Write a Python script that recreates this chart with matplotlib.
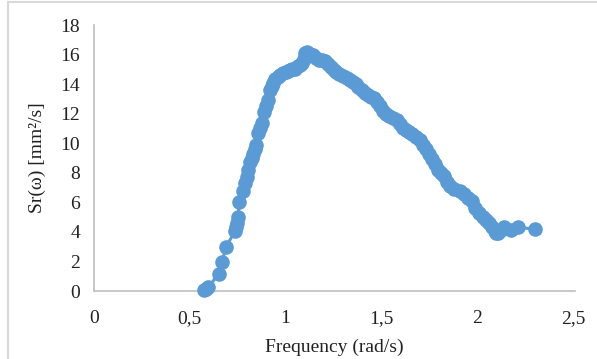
import matplotlib
matplotlib.use("Agg")
import matplotlib.pyplot as plt
from matplotlib.lines import Line2D

freq = [0.575, 0.585, 0.595, 0.652, 0.668, 0.689, 0.736, 0.741, 0.746, 0.752, 0.757,
        0.778, 0.788, 0.798, 0.804, 0.814, 0.822, 0.830, 0.838, 0.845, 0.856, 0.866,
        0.877, 0.887, 0.897, 0.908, 0.919, 0.927, 0.934, 0.945, 0.958, 0.971, 0.985,
        1.000, 1.012, 1.023, 1.035, 1.050, 1.065, 1.076, 1.086, 1.095, 1.100, 1.110,
        1.125, 1.143, 1.160, 1.175, 1.190, 1.205, 1.220, 1.235, 1.250, 1.265, 1.280,
        1.300, 1.320, 1.335, 1.350, 1.365, 1.380, 1.400, 1.415, 1.430, 1.445, 1.460,
        1.475, 1.490, 1.510, 1.525, 1.540, 1.560, 1.580, 1.595, 1.610, 1.630, 1.645,
        1.660, 1.680, 1.700, 1.715, 1.730, 1.750, 1.765, 1.780, 1.795, 1.810, 1.825,
        1.840, 1.860, 1.880, 1.910, 1.930, 1.950, 1.970, 1.990, 2.010, 2.030, 2.045,
        2.060, 2.075, 2.090, 2.100, 2.110, 2.125, 2.140, 2.175, 2.210, 2.300]
sr = [0.05, 0.15, 0.27, 1.15, 1.96, 2.98, 4.06, 4.35, 4.60, 5.00, 6.00,
      6.80, 7.30, 7.70, 8.20, 8.70, 9.00, 9.30, 9.60, 9.90, 10.70, 11.00,
      11.40, 12.10, 12.50, 12.90, 13.60, 13.90, 14.10, 14.35, 14.50, 14.60, 14.75,
      14.85, 14.90, 14.95, 15.00, 15.05, 15.20, 15.30, 15.40, 15.70, 16.10, 16.15,
      16.05, 15.95, 15.75, 15.60, 15.65, 15.55, 15.35, 15.15, 14.95, 14.80, 14.70,
      14.55, 14.40, 14.25, 14.15, 14.00, 13.80, 13.60, 13.40, 13.25, 13.15, 13.05,
      12.80, 12.50, 12.20, 12.00, 11.85, 11.70, 11.55, 11.30, 11.05, 10.90, 10.75,
      10.60, 10.40, 10.20, 9.90, 9.60, 9.30, 8.95, 8.60, 8.20, 8.00, 7.75,
      7.40, 7.10, 6.90, 6.75, 6.55, 6.30, 6.10, 5.60, 5.30, 5.00, 4.80,
      4.60, 4.35, 4.05, 3.95, 3.90, 4.10, 4.30, 4.15, 4.30, 4.20]

x_ticks = [0, 0.5, 1, 1.5, 2, 2.5]
x_labels = ["0", "0,5", "1", "1,5", "2", "2,5"]
y_ticks = [0, 2, 4, 6, 8, 10, 12, 14, 16, 18]

plt.rcParams['font.family'] = ['Liberation Serif', 'DejaVu Serif']

fig = plt.figure(figsize=(5.97, 3.59), dpi=100)
W, H = 597, 359
ax = fig.add_axes([94 / W, (H - 291) / H, (575 - 94) / W, (291 - 25) / H])

color = "#5B9BD5"
ax.plot(freq, sr, color=color, lw=2.2, marker='o', ms=9.5, mec=color, mfc=color,
        clip_on=False, zorder=3)

ax.set_xlim(0, 2.51)
ax.set_ylim(0, 18)
ax.set_xticks(x_ticks)
ax.set_xticklabels(x_labels)
ax.set_yticks(y_ticks)
ax.tick_params(axis='both', length=0, labelsize=14, colors='#222222')
ax.tick_params(axis='x', pad=14)
ax.tick_params(axis='y', pad=10)

for s in ['top', 'right']:
    ax.spines[s].set_visible(False)
for s in ['left', 'bottom']:
    ax.spines[s].set_color('#BFBFBF')
    ax.spines[s].set_linewidth(1.2)
ax.spines['bottom'].set_zorder(1)

ax.set_xlabel("Frequency (rad/s)", fontsize=14, color='#222222', labelpad=8)
ax.set_ylabel("Sr(ω) [mm²/s]", fontsize=14, color='#222222', labelpad=10)

# outer light border
fig.add_artist(Line2D([8 / W, 1], [1 - 2 / H, 1 - 2 / H], color='#D9D9D9', lw=1.5,
                      transform=fig.transFigure))
fig.add_artist(Line2D([8 / W, 8 / W], [0, 1 - 2 / H], color='#D9D9D9', lw=1.5,
                      transform=fig.transFigure))

fig.savefig("out.png", dpi=100)
